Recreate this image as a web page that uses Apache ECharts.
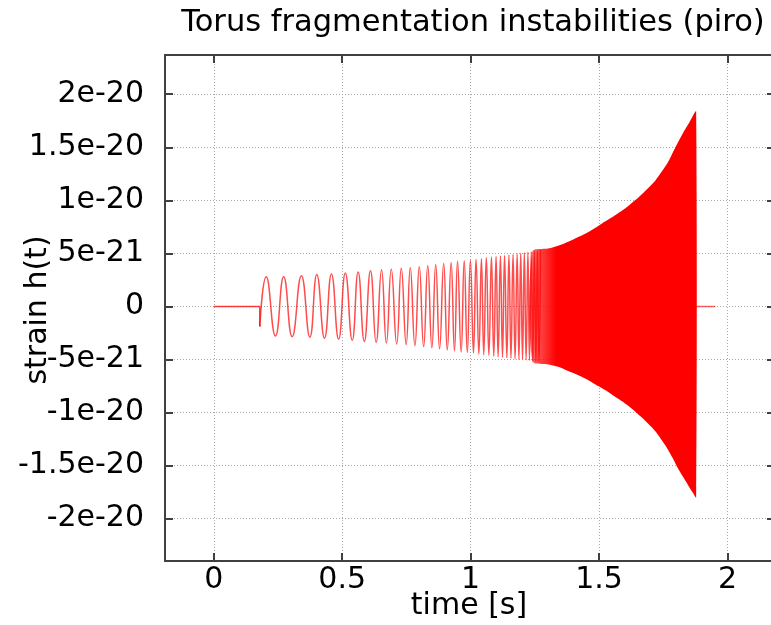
<!DOCTYPE html>
<html>
<head>
<meta charset="utf-8">
<script src="https://cdn.jsdelivr.net/npm/echarts@6/dist/echarts.min.js"></script>
<style>
  html, body { margin: 0; padding: 0; background: #ffffff; }
  #chart { width: 771px; height: 625px; }
</style>
</head>
<body>
<div id="chart"></div>
<script>
// ---- waveform data: time in s, strain h(t) in units of H_UNIT ----
const H_UNIT = 1e-21;

// quiet baseline before the onset, ending on the initial drop
const preT = [0.0, 0.179, 0.179];
const preH = [0, 0, -1.9];

// resolved oscillation: successive maxima / minima
const oscT = [
  0.179, 0.204, 0.240, 0.272, 0.305, 0.341, 0.374, 0.401, 0.431, 0.458,
  0.486, 0.512, 0.539, 0.562, 0.586, 0.610, 0.632, 0.653, 0.672, 0.691,
  0.712, 0.730, 0.749, 0.765, 0.783, 0.800, 0.817, 0.833, 0.849, 0.864,
  0.879, 0.895, 0.909, 0.924, 0.937, 0.949, 0.963, 0.975, 0.987, 0.999,
  1.011, 1.021, 1.032, 1.042, 1.051, 1.061, 1.071, 1.081, 1.090, 1.099,
  1.107, 1.116, 1.124, 1.132, 1.141, 1.149, 1.157, 1.165, 1.173, 1.181,
  1.188, 1.195, 1.202, 1.209, 1.216, 1.223, 1.229, 1.236, 1.242, 1.248,
  1.254, 1.260, 1.266, 1.272
];
const oscH = [
  -1.9, 2.8, -2.8, 2.8, -2.85, 2.9, -2.9, 3.0, -3.0, 3.05,
  -3.1, 3.15, -3.2, 3.25, -3.3, 3.35, -3.4, 3.45, -3.45, 3.5,
  -3.55, 3.6, -3.6, 3.65, -3.7, 3.75, -3.8, 3.85, -3.9, 3.95,
  -4.0, 4.05, -4.1, 4.15, -4.2, 4.25, -4.3, 4.3, -4.35, 4.35,
  -4.4, 4.45, -4.5, 4.5, -4.55, 4.6, -4.6, 4.65, -4.7, 4.7,
  -4.75, 4.75, -4.8, 4.8, -4.85, 4.85, -4.9, 4.9, -4.95, 4.95,
  -5.0, 5.0, -5.0, 5.05, -5.05, 5.1, -5.1, 5.15, -5.15, 5.2,
  -5.2, 5.25, -5.25, 5.3
];

// unresolved high-frequency part: upper / lower envelope of the signal
const bandT  = [1.240, 1.300, 1.349, 1.380, 1.415, 1.450, 1.478, 1.510, 1.544, 1.578,
                1.610, 1.640, 1.672, 1.699, 1.720, 1.738, 1.761, 1.775, 1.789, 1.808,
                1.828, 1.843, 1.855, 1.866, 1.878];
const bandUp = [5.15, 5.45, 5.8, 6.1, 6.5, 6.9, 7.3, 7.8, 8.3, 8.85,
                9.4, 10.0, 10.7, 11.35, 11.9, 12.5, 13.3, 13.9, 14.6, 15.5,
                16.4, 17.0, 17.5, 18.0, 18.4];
const bandLo = [-5.15, -5.45, -5.75, -6.1, -6.45, -6.85, -7.25, -7.7, -8.2, -8.75,
                -9.3, -9.9, -10.6, -11.25, -11.8, -12.4, -13.2, -13.8, -14.4, -15.3,
                -16.1, -16.7, -17.2, -17.6, -18.0];

// quiet baseline after the end of the signal
const postT = [1.878, 1.953];
const postH = [0, 0];

// axis ranges (time in s, strain in H_UNIT)
const xRange = [-0.19, 2.185];
const yRange = [-24.0, 23.7];

const titleText = 'Torus fragmentation instabilities (piro)';
const xName = 'time [s]';
const yName = 'strain h(t)';

// ---- chart ----
const FONT = 'DejaVu Sans';
const RED = '#ff0000';
const BORDER = '#404040';
const zip = (a, b) => a.map((v, i) => [v, b[i]]);

// strain tick labels written like "1.5e-20", "5e-21", "0"
function fmtStrain(v) {
  const s = Number((v * H_UNIT).toPrecision(6));
  if (Math.abs(s) < 1e-30) return '0';
  return s.toExponential().replace('e+', 'e');
}

const gridLine = { show: true, lineStyle: { color: '#a8a8a8', width: 1, type: [1, 2] } };
const tickIn = { show: true, inside: true, length: 8, lineStyle: { color: BORDER, width: 2 } };
const lineAxis = { show: true, onZero: false, lineStyle: { color: BORDER, width: 2 } };
const axisTitleStyle = { fontFamily: FONT, fontSize: 30, fill: '#000', align: 'center', verticalAlign: 'middle' };

const chart = echarts.init(document.getElementById('chart'), null, { renderer: 'canvas' });

chart.setOption({
  animation: false,
  backgroundColor: '#ffffff',
  title: {
    text: titleText,
    left: 468,
    top: 3,
    textAlign: 'center',
    textStyle: { fontFamily: FONT, fontSize: 30.5, fontWeight: 'normal', color: '#000' }
  },
  // axis titles
  graphic: [
    { type: 'text', x: 38, y: 310, rotation: Math.PI / 2,
      style: Object.assign({ text: yName }, axisTitleStyle) },
    { type: 'text', x: 469, y: 606,
      style: Object.assign({ text: xName }, axisTitleStyle) }
  ],
  grid: { left: 165, top: 55, width: 610, height: 506, containLabel: false, outerBoundsMode: 'none' },
  xAxis: [
    {
      type: 'value', position: 'bottom', min: xRange[0], max: xRange[1], splitNumber: 5,
      axisLine: lineAxis, axisTick: tickIn, splitLine: gridLine,
      axisLabel: { fontFamily: FONT, fontSize: 30, color: '#000', margin: 4,
                   showMinLabel: false, showMaxLabel: false }
    },
    {
      type: 'value', position: 'top', min: xRange[0], max: xRange[1], splitNumber: 5,
      axisLine: lineAxis, axisTick: tickIn, splitLine: { show: false },
      axisLabel: { show: false }
    }
  ],
  yAxis: [
    {
      type: 'value', position: 'left', min: yRange[0], max: yRange[1], splitNumber: 9,
      axisLine: lineAxis, axisTick: tickIn, splitLine: gridLine,
      axisLabel: { fontFamily: FONT, fontSize: 30, color: '#000', margin: 21,
                   formatter: fmtStrain, showMinLabel: false, showMaxLabel: false }
    },
    {
      type: 'value', position: 'right', min: yRange[0], max: yRange[1], splitNumber: 9,
      axisLine: lineAxis, axisTick: tickIn, splitLine: { show: false },
      axisLabel: { show: false }
    }
  ],
  series: [
    {
      name: 'baseline', type: 'line', data: zip(preT, preH),
      showSymbol: false, silent: true,
      lineStyle: { color: RED, width: 1.5, opacity: 0.75 }
    },
    {
      name: 'oscillation', type: 'line', data: zip(oscT, oscH),
      showSymbol: false, silent: true, smooth: 0.5,
      lineStyle: { color: RED, width: 1.5, opacity: 0.7 }
    },
    {
      name: 'envelope', type: 'custom', silent: true,
      data: bandT.map((t, i) => [t, bandUp[i], bandLo[i]]),
      encode: { x: 0, y: [1, 2] },
      renderItem: function (params, api) {
        if (params.dataIndexInside !== 0) return null;
        const n = params.dataInsideLength;
        const top = [], bottom = [];
        for (let i = 0; i < n; i++) {
          const t = api.value(0, i);
          top.push(api.coord([t, api.value(1, i)]));
          bottom.push(api.coord([t, api.value(2, i)]));
        }
        return {
          type: 'polygon',
          shape: { points: top.concat(bottom.reverse()), smooth: 0.3 },
          style: {
            fill: new echarts.graphic.LinearGradient(0, 0, 1, 0, [
              { offset: 0, color: 'rgba(255,0,0,0.55)' },
              { offset: 0.16, color: 'rgba(255,0,0,1)' },
              { offset: 1, color: 'rgba(255,0,0,1)' }
            ])
          }
        };
      }
    },
    {
      name: 'tail', type: 'line', data: zip(postT, postH),
      showSymbol: false, silent: true,
      lineStyle: { color: RED, width: 1.5, opacity: 0.6 }
    }
  ]
});
</script>
</body>
</html>
